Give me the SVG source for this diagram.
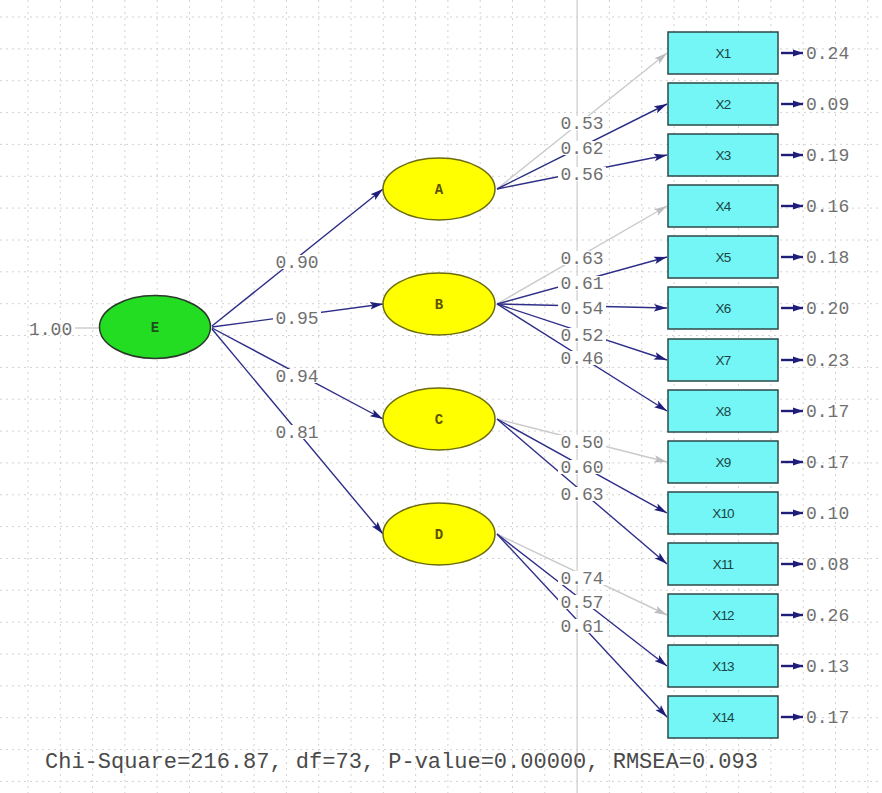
<svg xmlns="http://www.w3.org/2000/svg" width="882" height="793" viewBox="0 0 882 793">
<style>
.gv{stroke:#d2d2d2;stroke-width:1;stroke-dasharray:2,4}
.gh{stroke:#d2d2d2;stroke-width:1;stroke-dasharray:2,4}
.ln{stroke:#2e2e88;stroke-width:1.4;fill:none}
.lg{stroke:#cacaca;stroke-width:1.4;fill:none}
.er{stroke:#1e1e7a;stroke-width:2.4;fill:none}
.lb{font-family:"Liberation Mono","DejaVu Sans Mono",monospace;font-size:18px;fill:#707070}
.bg{fill:#fff}
.box{fill:#74f6f6;stroke:#2c4848;stroke-width:1.5}
.bt{font-family:"Liberation Sans",Arial,sans-serif;font-size:13.5px;fill:#1c4444;text-anchor:middle;letter-spacing:-0.8px}
.yel{fill:#ffff00;stroke:#6b6b10;stroke-width:1.5}
.grn{fill:#22dd22;stroke:#2a3a2a;stroke-width:1.5}
.nt{font-family:"Liberation Mono",monospace;font-size:14px;font-weight:bold;text-anchor:middle}
</style>
<defs>
<marker id="an" viewBox="0 0 12 8" refX="12" refY="4" markerWidth="13" markerHeight="9" markerUnits="userSpaceOnUse" orient="auto"><path d="M0,0.5 L12,4 L0,7.5 L2.5,4z" fill="#1e1e7a"/></marker>
<marker id="ag" viewBox="0 0 12 8" refX="12" refY="4" markerWidth="13" markerHeight="9" markerUnits="userSpaceOnUse" orient="auto"><path d="M0,0.5 L12,4 L0,7.5 L2.5,4z" fill="#bdbdbd"/></marker>
<marker id="ae" viewBox="0 0 10 8" refX="10" refY="4" markerWidth="10" markerHeight="9" markerUnits="userSpaceOnUse" orient="auto"><path d="M0,0.5 L10,4 L0,7.5z" fill="#1e1e7a"/></marker>
</defs>
<rect width="882" height="793" fill="#fff"/>
<g id="grid">
<line class="gv" x1="28" y1="0" x2="28" y2="793"/><line class="gv" x1="60.3" y1="0" x2="60.3" y2="793"/><line class="gv" x1="92.6" y1="0" x2="92.6" y2="793"/><line class="gv" x1="124.9" y1="0" x2="124.9" y2="793"/><line class="gv" x1="157.2" y1="0" x2="157.2" y2="793"/><line class="gv" x1="189.5" y1="0" x2="189.5" y2="793"/><line class="gv" x1="221.8" y1="0" x2="221.8" y2="793"/><line class="gv" x1="254.1" y1="0" x2="254.1" y2="793"/><line class="gv" x1="286.4" y1="0" x2="286.4" y2="793"/><line class="gv" x1="318.7" y1="0" x2="318.7" y2="793"/><line class="gv" x1="351" y1="0" x2="351" y2="793"/><line class="gv" x1="383.3" y1="0" x2="383.3" y2="793"/><line class="gv" x1="415.6" y1="0" x2="415.6" y2="793"/><line class="gv" x1="447.9" y1="0" x2="447.9" y2="793"/><line class="gv" x1="480.2" y1="0" x2="480.2" y2="793"/><line class="gv" x1="512.5" y1="0" x2="512.5" y2="793"/><line class="gv" x1="544.8" y1="0" x2="544.8" y2="793"/><line x1="577.1" y1="0" x2="577.1" y2="793" stroke="#cccccc" stroke-width="1.2"/><line class="gv" x1="609.4" y1="0" x2="609.4" y2="793"/><line class="gv" x1="641.7" y1="0" x2="641.7" y2="793"/><line class="gv" x1="674" y1="0" x2="674" y2="793"/><line class="gv" x1="706.3" y1="0" x2="706.3" y2="793"/><line class="gv" x1="738.6" y1="0" x2="738.6" y2="793"/><line class="gv" x1="770.9" y1="0" x2="770.9" y2="793"/><line class="gv" x1="803.2" y1="0" x2="803.2" y2="793"/><line class="gv" x1="835.5" y1="0" x2="835.5" y2="793"/><line class="gv" x1="867.8" y1="0" x2="867.8" y2="793"/>
<line class="gh" x1="0" y1="17" x2="882" y2="17"/><line class="gh" x1="0" y1="48.9" x2="882" y2="48.9"/><line class="gh" x1="0" y1="80.7" x2="882" y2="80.7"/><line class="gh" x1="0" y1="112.6" x2="882" y2="112.6"/><line class="gh" x1="0" y1="144.4" x2="882" y2="144.4"/><line class="gh" x1="0" y1="176.3" x2="882" y2="176.3"/><line class="gh" x1="0" y1="208.1" x2="882" y2="208.1"/><line class="gh" x1="0" y1="240" x2="882" y2="240"/><line class="gh" x1="0" y1="271.8" x2="882" y2="271.8"/><line class="gh" x1="0" y1="303.7" x2="882" y2="303.7"/><line class="gh" x1="0" y1="335.5" x2="882" y2="335.5"/><line class="gh" x1="0" y1="367.4" x2="882" y2="367.4"/><line class="gh" x1="0" y1="399.2" x2="882" y2="399.2"/><line class="gh" x1="0" y1="431.1" x2="882" y2="431.1"/><line class="gh" x1="0" y1="462.9" x2="882" y2="462.9"/><line class="gh" x1="0" y1="494.8" x2="882" y2="494.8"/><line class="gh" x1="0" y1="526.6" x2="882" y2="526.6"/><line class="gh" x1="0" y1="558.5" x2="882" y2="558.5"/><line class="gh" x1="0" y1="590.3" x2="882" y2="590.3"/><line class="gh" x1="0" y1="622.2" x2="882" y2="622.2"/><line class="gh" x1="0" y1="654" x2="882" y2="654"/><line class="gh" x1="0" y1="685.9" x2="882" y2="685.9"/><line class="gh" x1="0" y1="717.7" x2="882" y2="717.7"/><line class="gh" x1="0" y1="749.6" x2="882" y2="749.6"/><line class="gh" x1="0" y1="781.4" x2="882" y2="781.4"/>
</g>
<g id="connectors">
<line x1="75" y1="328" x2="99" y2="328" stroke="#c2c2c2" stroke-width="1.2"/>
<line class="ln" x1="212" y1="326" x2="383" y2="189" marker-end="url(#an)"/>
<line class="ln" x1="212" y1="327" x2="383" y2="304" marker-end="url(#an)"/>
<line class="ln" x1="212" y1="328" x2="383" y2="419" marker-end="url(#an)"/>
<line class="ln" x1="212" y1="329" x2="383" y2="534" marker-end="url(#an)"/>
<line class="lg" x1="497" y1="189" x2="667" y2="53" marker-end="url(#ag)"/>
<line class="ln" x1="497" y1="189" x2="667" y2="104" marker-end="url(#an)"/>
<line class="ln" x1="497" y1="189" x2="667" y2="155" marker-end="url(#an)"/>
<line class="lg" x1="497" y1="304" x2="667" y2="206" marker-end="url(#ag)"/>
<line class="ln" x1="497" y1="304" x2="667" y2="257" marker-end="url(#an)"/>
<line class="ln" x1="497" y1="304" x2="667" y2="308" marker-end="url(#an)"/>
<line class="ln" x1="497" y1="304" x2="667" y2="360" marker-end="url(#an)"/>
<line class="ln" x1="497" y1="304" x2="667" y2="411" marker-end="url(#an)"/>
<line class="lg" x1="497" y1="419" x2="667" y2="462" marker-end="url(#ag)"/>
<line class="ln" x1="497" y1="419" x2="667" y2="513" marker-end="url(#an)"/>
<line class="ln" x1="497" y1="419" x2="667" y2="564" marker-end="url(#an)"/>
<line class="lg" x1="497" y1="534" x2="667" y2="615" marker-end="url(#ag)"/>
<line class="ln" x1="497" y1="534" x2="667" y2="666" marker-end="url(#an)"/>
<line class="ln" x1="497" y1="534" x2="667" y2="717" marker-end="url(#an)"/>
<line class="er" x1="781" y1="53" x2="803" y2="53" marker-end="url(#ae)"/>
<line class="er" x1="781" y1="104" x2="803" y2="104" marker-end="url(#ae)"/>
<line class="er" x1="781" y1="155" x2="803" y2="155" marker-end="url(#ae)"/>
<line class="er" x1="781" y1="206" x2="803" y2="206" marker-end="url(#ae)"/>
<line class="er" x1="781" y1="257" x2="803" y2="257" marker-end="url(#ae)"/>
<line class="er" x1="781" y1="308" x2="803" y2="308" marker-end="url(#ae)"/>
<line class="er" x1="781" y1="360" x2="803" y2="360" marker-end="url(#ae)"/>
<line class="er" x1="781" y1="411" x2="803" y2="411" marker-end="url(#ae)"/>
<line class="er" x1="781" y1="462" x2="803" y2="462" marker-end="url(#ae)"/>
<line class="er" x1="781" y1="513" x2="803" y2="513" marker-end="url(#ae)"/>
<line class="er" x1="781" y1="564" x2="803" y2="564" marker-end="url(#ae)"/>
<line class="er" x1="781" y1="615" x2="803" y2="615" marker-end="url(#ae)"/>
<line class="er" x1="781" y1="666" x2="803" y2="666" marker-end="url(#ae)"/>
<line class="er" x1="781" y1="717" x2="803" y2="717" marker-end="url(#ae)"/>
</g>
<g id="labels" class="lb">
<rect class="bg" x="273" y="255" width="48" height="14"/><text x="297" y="267.5" text-anchor="middle">0.90</text>
<rect class="bg" x="273" y="311" width="48" height="14"/><text x="297" y="323.5" text-anchor="middle">0.95</text>
<rect class="bg" x="273" y="369" width="48" height="14"/><text x="297" y="381.5" text-anchor="middle">0.94</text>
<rect class="bg" x="273" y="425" width="48" height="14"/><text x="297" y="437.5" text-anchor="middle">0.81</text>
<rect class="bg" x="558" y="116" width="48" height="14"/><text x="582" y="128.5" text-anchor="middle">0.53</text>
<rect class="bg" x="558" y="141" width="48" height="14"/><text x="582" y="153.5" text-anchor="middle">0.62</text>
<rect class="bg" x="558" y="167" width="48" height="14"/><text x="582" y="179.5" text-anchor="middle">0.56</text>
<rect class="bg" x="558" y="251" width="48" height="14"/><text x="582" y="263.5" text-anchor="middle">0.63</text>
<rect class="bg" x="558" y="276" width="48" height="14"/><text x="582" y="288.5" text-anchor="middle">0.61</text>
<rect class="bg" x="558" y="301" width="48" height="14"/><text x="582" y="313.5" text-anchor="middle">0.54</text>
<rect class="bg" x="558" y="328" width="48" height="14"/><text x="582" y="340.5" text-anchor="middle">0.52</text>
<rect class="bg" x="558" y="351" width="48" height="14"/><text x="582" y="363.5" text-anchor="middle">0.46</text>
<rect class="bg" x="558" y="435" width="48" height="14"/><text x="582" y="447.5" text-anchor="middle">0.50</text>
<rect class="bg" x="558" y="460" width="48" height="14"/><text x="582" y="472.5" text-anchor="middle">0.60</text>
<rect class="bg" x="558" y="487" width="48" height="14"/><text x="582" y="499.5" text-anchor="middle">0.63</text>
<rect class="bg" x="558" y="571" width="48" height="14"/><text x="582" y="583.5" text-anchor="middle">0.74</text>
<rect class="bg" x="558" y="595" width="48" height="14"/><text x="582" y="607.5" text-anchor="middle">0.57</text>
<rect class="bg" x="558" y="619" width="48" height="14"/><text x="582" y="631.5" text-anchor="middle">0.61</text>
<text x="29" y="335">1.00</text>
<text x="806" y="59">0.24</text>
<text x="806" y="110">0.09</text>
<text x="806" y="161">0.19</text>
<text x="806" y="212">0.16</text>
<text x="806" y="263">0.18</text>
<text x="806" y="314">0.20</text>
<text x="806" y="366">0.23</text>
<text x="806" y="417">0.17</text>
<text x="806" y="468">0.17</text>
<text x="806" y="519">0.10</text>
<text x="806" y="570">0.08</text>
<text x="806" y="621">0.26</text>
<text x="806" y="672">0.13</text>
<text x="806" y="723">0.17</text>
</g>
<g id="node-E"><ellipse class="grn" cx="155" cy="327" rx="55.5" ry="31.5"/><text class="nt" x="155" y="332" fill="#1e4d1e">E</text></g>
<g id="node-A"><ellipse class="yel" cx="439" cy="189" rx="56" ry="31"/><text class="nt" x="439" y="194" fill="#5c5200">A</text></g>
<g id="node-B"><ellipse class="yel" cx="439" cy="304" rx="56" ry="31"/><text class="nt" x="439" y="309" fill="#5c5200">B</text></g>
<g id="node-C"><ellipse class="yel" cx="439" cy="419" rx="56" ry="31"/><text class="nt" x="439" y="424" fill="#5c5200">C</text></g>
<g id="node-D"><ellipse class="yel" cx="439" cy="534" rx="56" ry="31"/><text class="nt" x="439" y="539" fill="#5c5200">D</text></g>
<g id="node-X1"><rect class="box" x="668" y="32" width="110" height="42"/><text class="bt" x="723" y="58">X1</text></g>
<g id="node-X2"><rect class="box" x="668" y="83" width="110" height="42"/><text class="bt" x="723" y="109">X2</text></g>
<g id="node-X3"><rect class="box" x="668" y="134" width="110" height="42"/><text class="bt" x="723" y="160">X3</text></g>
<g id="node-X4"><rect class="box" x="668" y="185" width="110" height="42"/><text class="bt" x="723" y="211">X4</text></g>
<g id="node-X5"><rect class="box" x="668" y="236" width="110" height="42"/><text class="bt" x="723" y="262">X5</text></g>
<g id="node-X6"><rect class="box" x="668" y="287" width="110" height="42"/><text class="bt" x="723" y="313">X6</text></g>
<g id="node-X7"><rect class="box" x="668" y="339" width="110" height="42"/><text class="bt" x="723" y="365">X7</text></g>
<g id="node-X8"><rect class="box" x="668" y="390" width="110" height="42"/><text class="bt" x="723" y="416">X8</text></g>
<g id="node-X9"><rect class="box" x="668" y="441" width="110" height="42"/><text class="bt" x="723" y="467">X9</text></g>
<g id="node-X10"><rect class="box" x="668" y="492" width="110" height="42"/><text class="bt" x="723" y="518">X10</text></g>
<g id="node-X11"><rect class="box" x="668" y="543" width="110" height="42"/><text class="bt" x="723" y="569">X11</text></g>
<g id="node-X12"><rect class="box" x="668" y="594" width="110" height="42"/><text class="bt" x="723" y="620">X12</text></g>
<g id="node-X13"><rect class="box" x="668" y="645" width="110" height="42"/><text class="bt" x="723" y="671">X13</text></g>
<g id="node-X14"><rect class="box" x="668" y="696" width="110" height="42"/><text class="bt" x="723" y="722">X14</text></g>
<text x="45" y="768" font-family="Liberation Mono, monospace" font-size="22" fill="#4a4a4a">Chi-Square=216.87, df=73, P-value=0.00000, RMSEA=0.093</text>
</svg>
